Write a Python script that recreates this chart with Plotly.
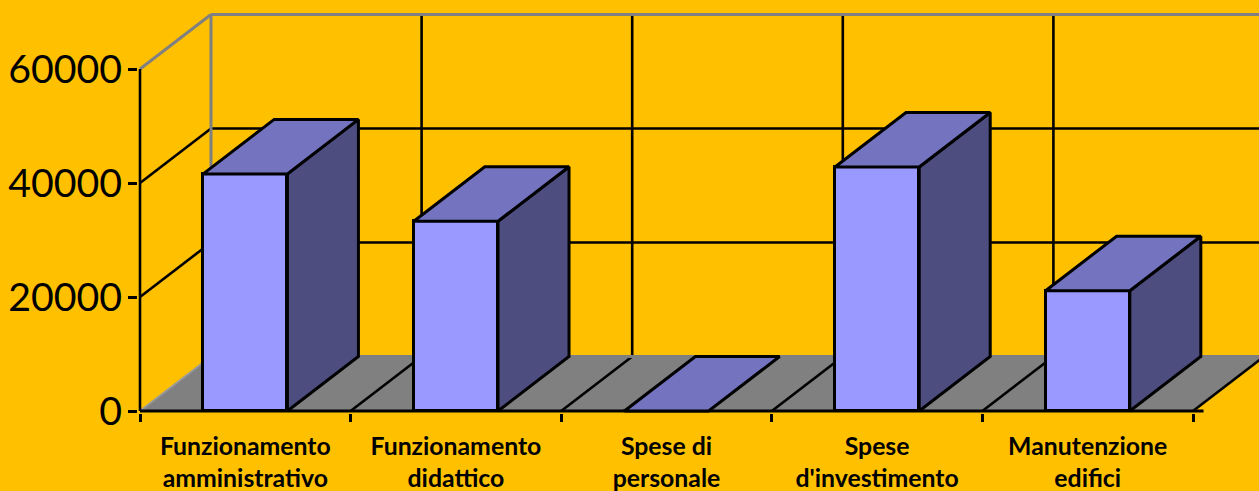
import plotly.graph_objects as go

categories = [["Funzionamento", "amministrativo"], ["Funzionamento", "didattico"], ["Spese di", "personale"],
              ["Spese", "d'investimento"], ["Manutenzione", "edifici"]]
values = [41600, 33300, 0, 42800, 21100]
y_ticks = [0, 20000, 40000, 60000]

BG, FLOOR, FRONT, TOP, SIDE = "#FFC000", "#808080", "#9999FF", "#7373BF", "#4D4D80"
PX_X = 210.6
PX_Y = 5.7 / 1000
DX = 71 / PX_X          # oblique depth in x units
DY = 54.5 / PX_Y        # oblique depth in y units
BAR_W = 0.4
n = len(values)
xmin = -2 / PX_X
xmax = (1259 - 140) / PX_X
ymin = -2 / PX_Y
ymax = 411 / PX_Y
positions = [i + 0.5 for i in range(n)]
x_edges = list(range(n + 1))


def seg(points):
    xs, ys = [], []
    for p in points:
        xs += [p[0][0], p[1][0], None]
        ys += [p[0][1], p[1][1], None]
    return xs, ys


def line(points, color="black", width=2.6, **kw):
    xs, ys = seg(points)
    return go.Scatter(x=xs, y=ys, mode="lines", line=dict(color=color, width=width),
                      hoverinfo="skip", showlegend=False, **kw)


def poly(xs, ys, fill, lw=3.0, **kw):
    return go.Scatter(x=xs + xs[:1], y=ys + ys[:1], mode="lines", fill="toself", fillcolor=fill,
                      line=dict(color="black" if lw else fill, width=lw or 0.1),
                      hoverinfo="skip", showlegend=False, **kw)


traces = []
top = y_ticks[-1]
# floor
traces.append(poly([0, n, n + DX, DX], [0, 0, DY, DY], FLOOR, lw=0))
# back wall grid
traces.append(line([((DX, v + DY), (n + DX, v + DY)) for v in y_ticks[1:-1]]))
traces.append(line([((i + DX, DY), (i + DX, top + DY)) for i in x_edges[1:-1]]))
# side wall grid
traces.append(line([((0, v), (DX, v + DY)) for v in y_ticks[1:-1]]))
# floor stripes
traces.append(line([((i, 0), (i + DX, DY)) for i in x_edges[1:]]))
# grey wall edges
traces.append(line([((DX, DY), (n + DX, DY))], color="#7F7F7F", width=3))
traces.append(line([((0, top), (DX, top + DY)), ((DX, top + DY), (n + DX, top + DY)), ((DX, DY), (DX, top + DY))],
                   color="#808080", width=3))
traces.append(line([((0, 0), (DX, DY))], color="#999999", width=2))
# axis lines
traces.append(line([((0, 0), (0, top))]))
traces.append(line([((0, 0), (n + 0.05, 0))], width=3))

# bars on overlaying axes so they sit above the walls
bar_traces = [go.Bar(x=positions, y=values, width=BAR_W, xaxis="x2", yaxis="y2",
                     marker=dict(color=FRONT, line=dict(color="black", width=3.0)),
                     hoverinfo="skip", showlegend=False)]
ov = dict(xaxis="x2", yaxis="y2")
for p, v in zip(positions, values):
    l, r = p - BAR_W / 2, p + BAR_W / 2
    if v > 0:
        bar_traces.append(poly([r, r + DX, r + DX, r], [0, DY, v + DY, v], SIDE, **ov))
    bar_traces.append(poly([l, r, r + DX, l + DX], [v, v, v + DY, v + DY], TOP, **ov))

labels = [f"<span style='font-size:24.8px'>{a}</span><br><span style='font-size:24.8px'>{b}</span>"
          for a, b in categories]

fig = go.Figure(traces + bar_traces)
fig.update_layout(
    width=1259, height=491, autosize=False, showlegend=False,
    paper_bgcolor=BG, plot_bgcolor=BG, margin=dict(l=138, r=0, t=0, b=78),
    font=dict(family="Lato", color="black"),
    bargap=0,
    xaxis=dict(range=[xmin, xmax], showgrid=False, zeroline=False, showline=False, ticks="",
               automargin=False,
               tickmode="array", tickvals=positions, ticktext=labels,
               tickfont=dict(family="Lato", size=24.6, weight="bold", color="black"),
               ticklabelstandoff=16, tickangle=0,
               minor=dict(tickmode="array", tickvals=x_edges, ticks="outside", ticklen=8,
                          tickwidth=2.5, tickcolor="black", showgrid=False)),
    yaxis=dict(range=[ymin, ymax], showgrid=False, zeroline=False, showline=False, ticks="outside",
               automargin=False,
               ticklen=9, tickwidth=2.5, tickcolor="black", tickmode="array", tickvals=y_ticks,
               ticktext=[str(v) for v in y_ticks], tickfont=dict(family="Lato", size=39.3, color="black"),
               ticklabelstandoff=-2),
    xaxis2=dict(range=[xmin, xmax], overlaying="x", visible=False),
    yaxis2=dict(range=[ymin, ymax], overlaying="y", visible=False),
)
fig.write_html("out.html", config=dict(displayModeBar=False),
               post_script="document.body.style.margin='0';document.body.style.overflow='hidden';")
